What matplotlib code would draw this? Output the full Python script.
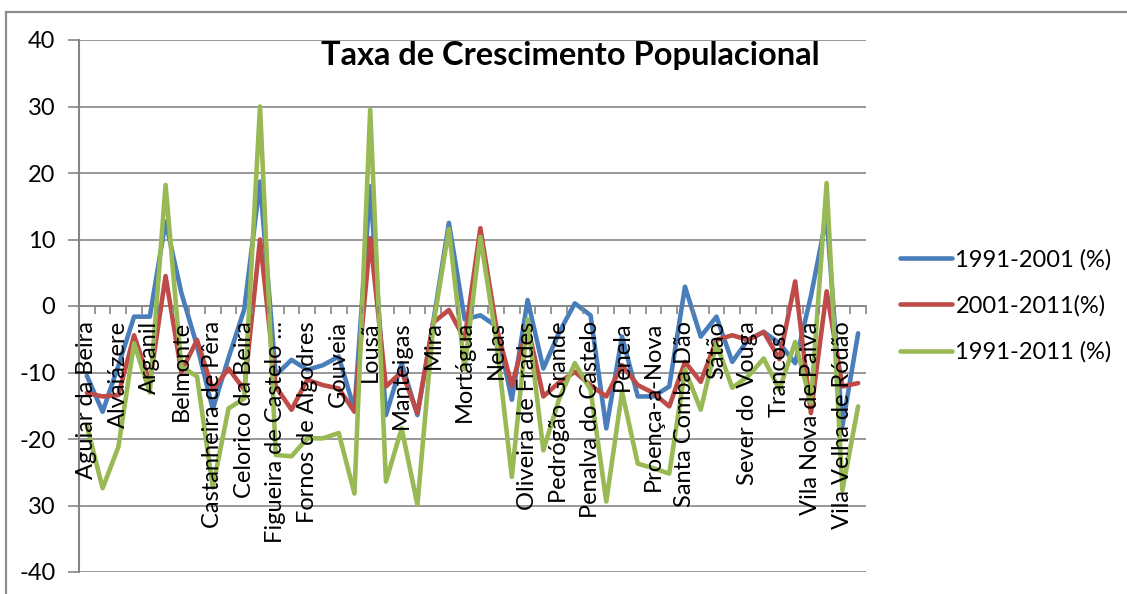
import numpy as np
import matplotlib
matplotlib.use("Agg")
from matplotlib import pyplot as plt
from matplotlib.patches import Rectangle

# concelhos (so metade aparece como rotulo no eixo)
concelhos = [
    "Aguiar da Beira", "Almeida", "Alvaiázere", "Ansião", "Arganil",
    "Armamar", "Belmonte", "Carregal do Sal", "Castanheira de Pêra", "Castro Daire",
    "Celorico da Beira", "Cinfães", "Figueira de Castelo …", "Figueiró dos Vinhos", "Fornos de Algodres",
    "Góis", "Gouveia", "Idanha-a-Nova", "Lousã", "Mação",
    "Manteigas", "Mêda", "Mira", "Moimenta da Beira", "Mortágua",
    "Murtosa", "Nelas", "Oleiros", "Oliveira de Frades", "Pampilhosa da Serra",
    "Pedrógão Grande", "Penacova", "Penalva do Castelo", "Penamacor", "Penela",
    "Penedono", "Proença-a-Nova", "Sabugal", "Santa Comba Dão", "São Pedro do Sul",
    "Sátão", "Sernancelhe", "Sever do Vouga", "Tábua", "Trancoso",
    "Vila de Rei", "Vila Nova de Paiva", "Vila Nova de Poiares", "Vila Velha de Ródão", "Vouzela",
]

cresc_1991_2001 = [
    -10.5, -15.9, -9.0, -1.6, -1.6, 12.7, 2.0, -6.0, -15.5, -7.8,
    -0.5, 18.7, -10.4, -8.1, -9.6, -8.9, -7.6, -15.6, 18.0, -16.4,
    -8.6, -16.4, -2.5, 12.5, -2.0, -1.4, -3.0, -14.1, 0.9, -9.4,
    -4.0, 0.4, -1.4, -18.4, -4.6, -13.6, -13.6, -12.1, 2.9, -4.6,
    -1.6, -8.4, -5.1, -3.9, -5.6, -8.6, 1.5, 13.5, -18.1, -4.1,
]
cresc_2001_2011 = [
    -13.1, -13.6, -13.4, -4.4, -11.5, 4.5, -9.9, -5.1, -12.6, -9.4,
    -12.6, 10.0, -12.1, -15.6, -11.1, -11.9, -12.4, -15.9, 10.2, -12.1,
    -9.9, -16.1, -2.5, -0.6, -5.0, 11.7, -3.0, -12.0, -3.0, -13.6,
    -11.5, -9.9, -11.9, -13.6, -8.9, -11.9, -13.1, -15.1, -8.4, -11.4,
    -5.1, -4.4, -5.1, -3.9, -8.0, 3.7, -16.1, 2.2, -12.1, -11.6,
]
cresc_1991_2011 = [
    -18.0, -27.4, -21.2, -5.6, -13.0, 18.2, -9.1, -10.6, -27.3, -15.4,
    -13.9, 30.0, -22.4, -22.6, -19.9, -19.9, -19.1, -28.2, 29.5, -26.4,
    -18.4, -29.9, -3.0, 11.6, -9.5, 10.4, -5.0, -25.7, -2.0, -21.7,
    -14.0, -8.6, -12.6, -29.4, -12.9, -23.7, -24.4, -25.2, -9.6, -15.6,
    -5.6, -12.3, -10.6, -7.9, -12.6, -5.4, -14.6, 18.5, -27.7, -15.1,
]

series_nomes = ["1991-2001 (%)", "2001-2011(%)", "1991-2011 (%)"]
cores = ["#4A7EBB", "#BE4B48", "#98B954"]
ytick_vals = [40, 30, 20, 10, 0, -10, -20, -30, -40]
ytick_labels = ["40", "30", "20", "10", "0", "-10", "-20", "30", "-40"]

plt.rcParams['font.family'] = ['Lato', 'DejaVu Sans']
cinza = "#868686"

fig = plt.figure(figsize=(11.27, 5.94), dpi=100)
ax = fig.add_axes([79 / 1127, 22 / 594, 787 / 1127, 532 / 594])

x = np.arange(len(concelhos))
for vals, nome, cor in zip([cresc_1991_2001, cresc_2001_2011, cresc_1991_2011], series_nomes, cores):
    ax.plot(x, vals, color=cor, lw=3.3, label=nome, zorder=3,
            solid_joinstyle='round', solid_capstyle='round')

ax.set_xlim(-0.5, len(concelhos) - 0.5)
ax.set_ylim(-40, 40)
ax.set_yticks(ytick_vals, labels=ytick_labels)
ax.yaxis.grid(True, color=cinza, lw=1.2)
ax.set_axisbelow(True)

for s in ['top', 'right']:
    ax.spines[s].set_visible(False)
ax.spines['bottom'].set_position(('data', 0))
ax.spines['bottom'].set_color(cinza)
ax.spines['bottom'].set_linewidth(1.2)
ax.spines['left'].set_color(cinza)
ax.spines['left'].set_linewidth(1.5)

ax.set_xticks(x[::2], labels=concelhos[::2], rotation=90)
ax.set_xticks(np.arange(-0.5, len(concelhos)), minor=True)
ax.tick_params(axis='x', which='major', length=0, pad=11, labelsize=17)
ax.tick_params(axis='x', which='minor', length=6, width=1.2, color=cinza, direction='out')
ax.tick_params(axis='y', length=8, width=1.2, color=cinza, pad=9, labelsize=17)
ax.xaxis.set_zorder(5)

fig.text(570 / 1127, 1 - 65 / 594, "Taxa de Crescimento Populacional",
         ha='center', va='baseline', fontsize=23.5, fontweight='bold')

fig.legend(loc='center left', bbox_to_anchor=(900 / 1127, 1 - 306 / 594),
           frameon=False, fontsize=17, handlelength=2.2, handletextpad=0.15,
           labelspacing=1.05, borderpad=0, borderaxespad=0)

fig.patches.append(Rectangle((6 / 1127, -0.5), 2.0, (594 - 12) / 594 + 0.5,
                             transform=fig.transFigure, fill=False,
                             edgecolor="#8c8c8c", lw=1.6))

fig.savefig("out.png", dpi=100)
